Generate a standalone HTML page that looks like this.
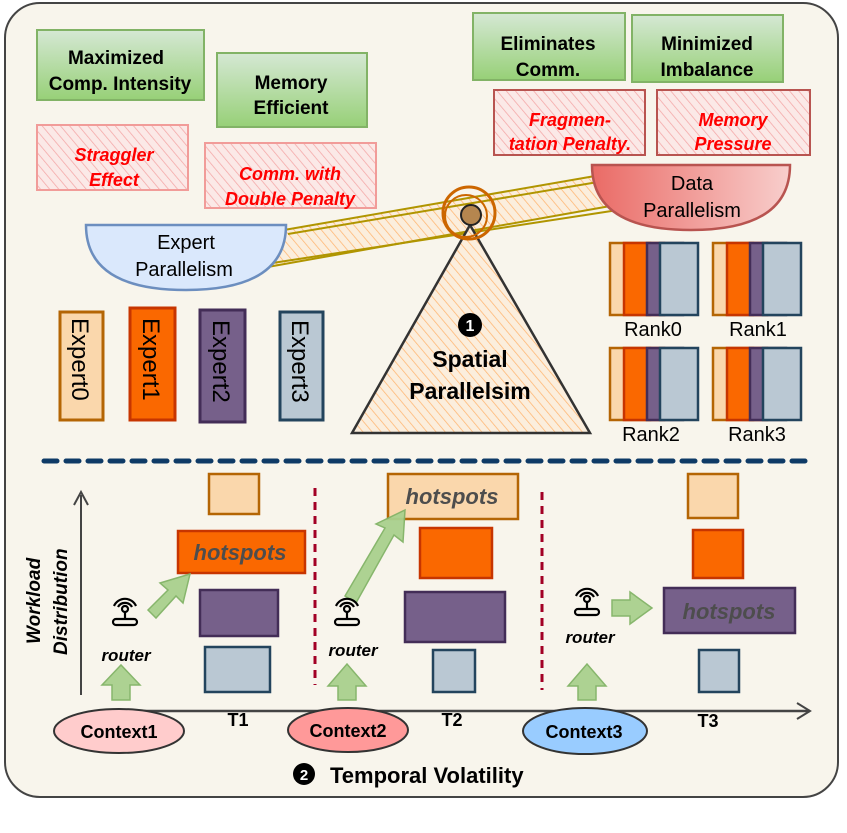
<!DOCTYPE html>
<html><head><meta charset="utf-8"><style>
html,body{margin:0;padding:0;background:#fff;}
svg{display:block;font-family:"Liberation Sans",sans-serif;}
.b{font-weight:bold;}
</style></head><body>
<svg width="847" height="833" viewBox="0 0 847 833" xmlns="http://www.w3.org/2000/svg">
<defs>
<linearGradient id="g" x1="0" y1="0" x2="0" y2="1"><stop offset="0" stop-color="#d5e8d4"/><stop offset="1" stop-color="#97d077"/></linearGradient>
<linearGradient id="dp" x1="0" y1="0" x2="1" y2="0"><stop offset="0" stop-color="#ea6b66"/><stop offset="1" stop-color="#f8cecc"/></linearGradient>
<pattern id="h" width="7" height="7" patternUnits="userSpaceOnUse" patternTransform="rotate(-40)"><rect width="7" height="7" fill="#fbe9e7"/><line x1="0" y1="0" x2="0" y2="7" stroke="#f4a6a6" stroke-width="1.5"/></pattern>
<pattern id="o" width="7" height="7" patternUnits="userSpaceOnUse" patternTransform="rotate(-40)"><rect width="7" height="7" fill="#fbeedd"/><line x1="0" y1="0" x2="0" y2="7" stroke="#ffb570" stroke-width="1.5"/></pattern>
</defs>
<rect x="5" y="3" width="833" height="794" rx="35" fill="#f8f5ec" stroke="#444" stroke-width="2"/>

<g stroke="#82b366" stroke-width="2" fill="url(#g)">
<rect x="37" y="30" width="167" height="70"/>
<rect x="217" y="53" width="150" height="74"/>
<rect x="473" y="13" width="152" height="67"/>
<rect x="632" y="15" width="151" height="67"/>
</g>
<g class="b" font-size="19" text-anchor="middle" fill="#000">
<text x="116" y="64">Maximized</text><text x="120" y="90">Comp. Intensity</text>
<text x="291" y="89">Memory</text><text x="291" y="114">Efficient</text>
<text x="548" y="50">Eliminates</text><text x="548" y="76">Comm.</text>
<text x="707" y="50">Minimized</text><text x="707" y="76">Imbalance</text>
</g>
<g stroke="#f19c99" stroke-width="2" fill="url(#h)">
<rect x="37" y="125" width="151" height="65"/>
<rect x="205" y="143" width="171" height="65"/>
</g>
<g stroke="#b85450" stroke-width="2" fill="url(#h)">
<rect x="494" y="90" width="151" height="65"/>
<rect x="657" y="90" width="153" height="65"/>
</g>
<g class="b" font-size="18" font-style="italic" text-anchor="middle" fill="#ff0000">
<text x="114" y="161">Straggler</text><text x="114" y="186">Effect</text>
<text x="290" y="180">Comm. with</text><text x="290" y="205">Double Penalty</text>
<text x="570" y="126">Fragmen-</text><text x="570" y="150">tation Penalty.</text>
<text x="733" y="126">Memory</text><text x="733" y="150">Pressure</text>
</g>

<polygon points="284,230 595,176 616,205 262,268" fill="url(#o)"/>
<g stroke="#b09500" stroke-width="2">
<line x1="284" y1="230" x2="595" y2="176"/><line x1="288" y1="234" x2="598" y2="182"/>
<line x1="262" y1="268" x2="616" y2="205"/><line x1="266" y1="264" x2="618" y2="210"/>
</g>
<polygon points="470,225 352,433 590,433" fill="url(#o)" stroke="#333" stroke-width="2.5"/>
<circle cx="469" cy="213" r="26" fill="none" stroke="#cc6600" stroke-width="3"/>
<circle cx="466" cy="216" r="21" fill="none" stroke="#cc6600" stroke-width="2"/>
<circle cx="471" cy="215" r="10" fill="#b5864f" stroke="#222" stroke-width="2"/>
<circle cx="470" cy="325" r="12" fill="#000"/>
<text x="470" y="331" font-size="16" class="b" fill="#fff" text-anchor="middle">1</text>
<text x="470" y="367" class="b" font-size="23" text-anchor="middle">Spatial</text>
<text x="470" y="399" class="b" font-size="23" text-anchor="middle">Parallelsim</text>

<path d="M86,225 L286,225 Q286,290 186,290 Q86,290 86,225 Z" fill="#dae8fc" stroke="#6c8ebf" stroke-width="2.5"/>
<text x="186" y="249" font-size="20" text-anchor="middle">Expert</text>
<text x="184" y="276" font-size="20" text-anchor="middle">Parallelism</text>
<path d="M592,165 L790,165 Q790,230 691,230 Q592,230 592,165 Z" fill="url(#dp)" stroke="#b85450" stroke-width="2.5"/>
<text x="692" y="190" font-size="20" text-anchor="middle">Data</text>
<text x="692" y="217" font-size="20" text-anchor="middle">Parallelism</text>

<g stroke-width="3">
<rect x="60" y="312" width="43" height="108" fill="#fad7ac" stroke="#b46504"/>
<rect x="130" y="308" width="45" height="112" fill="#fa6800" stroke="#c73500"/>
<rect x="200" y="310" width="45" height="112" fill="#76608a" stroke="#432d57"/>
<rect x="280" y="312" width="43" height="108" fill="#bac8d3" stroke="#23445d"/>
</g>
<g font-size="24" fill="#000">
<text transform="translate(72,318) rotate(90)">Expert0</text>
<text transform="translate(143,318) rotate(90)">Expert1</text>
<text transform="translate(213,320) rotate(90)">Expert2</text>
<text transform="translate(292,320) rotate(90)">Expert3</text>
</g>

<g id="rk" stroke-width="2.5">
<rect x="610" y="243" width="40" height="72" fill="#fad7ac" stroke="#b46504"/>
<rect x="624" y="243" width="40" height="72" fill="#fa6800" stroke="#c73500"/>
<rect x="647" y="243" width="36" height="72" fill="#76608a" stroke="#432d57"/>
<rect x="660" y="243" width="38" height="72" fill="#bac8d3" stroke="#23445d"/>
</g>
<use href="#rk" x="103" y="0"/>
<use href="#rk" x="0" y="105"/>
<use href="#rk" x="103" y="105"/>
<g font-size="20" text-anchor="middle">
<text x="653" y="336">Rank0</text><text x="758" y="336">Rank1</text>
<text x="651" y="441">Rank2</text><text x="757" y="441">Rank3</text>
</g>

<line x1="44" y1="461" x2="806" y2="461" stroke="#0e3a66" stroke-width="5" stroke-dasharray="13,9" stroke-linecap="round"/>

<line x1="81" y1="695" x2="81" y2="495" stroke="#444" stroke-width="2"/>
<polyline points="74,505 81,492 88,505" fill="none" stroke="#444" stroke-width="2"/>
<line x1="130" y1="711" x2="810" y2="711" stroke="#444" stroke-width="2.5"/>
<polyline points="797,703 810,711 797,719" fill="none" stroke="#444" stroke-width="2"/>
<text transform="translate(40,644) rotate(-90)" class="b" font-style="italic" font-size="19">Workload</text>
<text transform="translate(67,655) rotate(-90)" class="b" font-style="italic" font-size="19">Distribution</text>

<g stroke="#a20025" stroke-width="3" stroke-dasharray="8,6">
<line x1="315" y1="488" x2="315" y2="685"/>
<line x1="542" y1="492" x2="542" y2="690"/>
</g>

<g stroke-width="2.5">
<rect x="209" y="474" width="50" height="40" fill="#fad7ac" stroke="#b46504"/>
<rect x="178" y="531" width="127" height="42" fill="#fa6800" stroke="#c73500"/>
<rect x="200" y="590" width="78" height="46" fill="#76608a" stroke="#432d57"/>
<rect x="205" y="647" width="65" height="45" fill="#bac8d3" stroke="#23445d"/>
<rect x="388" y="474" width="130" height="45" fill="#fad7ac" stroke="#b46504"/>
<rect x="420" y="528" width="72" height="50" fill="#fa6800" stroke="#c73500"/>
<rect x="405" y="592" width="100" height="50" fill="#76608a" stroke="#432d57"/>
<rect x="433" y="650" width="42" height="42" fill="#bac8d3" stroke="#23445d"/>
<rect x="688" y="474" width="50" height="44" fill="#fad7ac" stroke="#b46504"/>
<rect x="693" y="530" width="50" height="48" fill="#fa6800" stroke="#c73500"/>
<rect x="664" y="588" width="131" height="45" fill="#76608a" stroke="#432d57"/>
<rect x="699" y="650" width="40" height="42" fill="#bac8d3" stroke="#23445d"/>
</g>
<g class="b" font-style="italic" font-size="22" fill="#4d4d4d" text-anchor="middle">
<text x="240" y="560">hotspots</text>
<text x="452" y="504">hotspots</text>
<text x="729" y="619">hotspots</text>
</g>

<g fill="#a9d18e" stroke="#82b366" stroke-width="1.5" opacity="0.95">
<polygon points="112,700 112,685 102,685 121,665 140,685 130,685 130,700"/>
<polygon points="338,700 338,686 328,686 347,664 366,686 356,686 356,700"/>
<polygon points="578,700 578,686 568,686 587,664 606,686 596,686 596,700"/>
<polygon points="148,610 168,590 160,583 190,574 183,603 176,596 156,618"/>
<polygon points="345,596 385,528 376,524 405,510 403,542 394,535 356,603"/>
<polygon points="612,600 630,600 630,592 652,608 630,624 630,616 612,616"/>
</g>

<g id="rt" fill="none" stroke="#000" stroke-width="2.2">
<rect x="113" y="619" width="24" height="6" rx="3"/>
<line x1="125" y1="619" x2="125" y2="612"/>
<circle cx="125" cy="609" r="3"/>
<path d="M118,607 A8,8 0 0 1 132,607"/>
<path d="M114,606 A12,12 0 0 1 136,606"/>
</g>
<use href="#rt" x="222" y="0"/>
<use href="#rt" x="462" y="-10"/>
<g class="b" font-style="italic" font-size="17" text-anchor="middle">
<text x="126" y="661">router</text>
<text x="353" y="656">router</text>
<text x="590" y="643">router</text>
</g>

<ellipse cx="119" cy="731" rx="65" ry="22" fill="#ffcccc" stroke="#333" stroke-width="2"/>
<ellipse cx="348" cy="730" rx="60" ry="22" fill="#ff9999" stroke="#333" stroke-width="2"/>
<ellipse cx="585" cy="731" rx="62" ry="23" fill="#99ccff" stroke="#333" stroke-width="2"/>
<g class="b" font-size="18" text-anchor="middle">
<text x="119" y="738">Context1</text>
<text x="348" y="737">Context2</text>
<text x="584" y="738">Context3</text>
<text x="238" y="726">T1</text>
<text x="452" y="726">T2</text>
<text x="708" y="727">T3</text>
</g>

<circle cx="304" cy="774" r="11" fill="#000"/>
<text x="304" y="780" class="b" font-size="15" fill="#fff" text-anchor="middle">2</text>
<text x="330" y="783" class="b" font-size="22">Temporal Volatility</text>
</svg>
</body></html>
